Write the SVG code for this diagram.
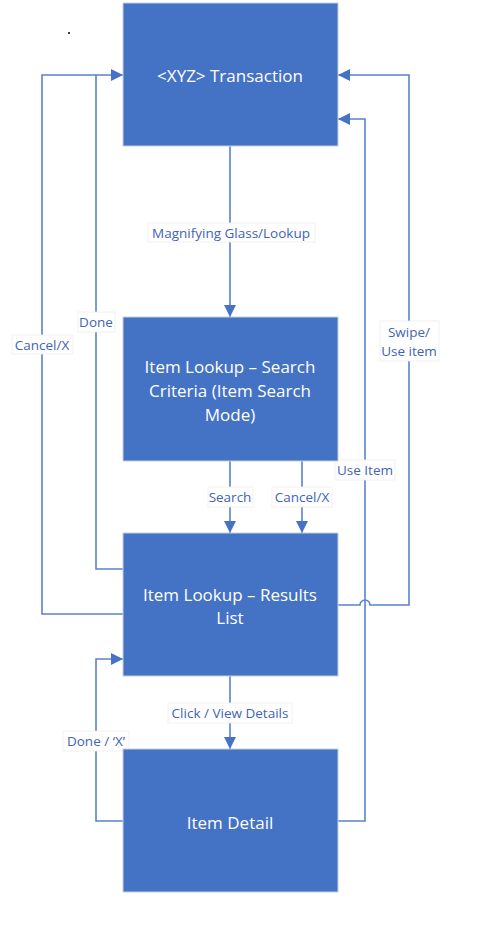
<svg xmlns="http://www.w3.org/2000/svg" width="478" height="950" viewBox="0 0 478 950">
<style>
.node{fill:#4472C4;stroke:#C9CFD9;stroke-width:1}
.nt{font-family:"Open Sans","Liberation Sans",sans-serif;font-size:17px;fill:#FFFFFF;text-anchor:middle;dominant-baseline:central}
.ln{fill:none;stroke:#5B82CC;stroke-width:1.6}
.lb{fill:#FFFFFF;stroke:#EEEEEE;stroke-width:0.8}
.lt{font-family:"Open Sans","Liberation Sans",sans-serif;font-size:13.5px;fill:#3F63B8;text-anchor:middle;dominant-baseline:central}
</style>
<defs>
<marker id="ah" viewBox="0 0 12 12" refX="12" refY="6" markerWidth="12" markerHeight="12" markerUnits="userSpaceOnUse" orient="auto">
<path d="M0,0 L12,6 L0,12 z" fill="#4472C4"/>
</marker>
</defs>
<rect width="478" height="950" fill="#FFFFFF"/>
<circle cx="69" cy="33" r="1" fill="#000000"/>
<g id="connectors">
<path class="ln" d="M230,146 V317" marker-end="url(#ah)"/>
<path class="ln" d="M230,461 V533" marker-end="url(#ah)"/>
<path class="ln" d="M302,461 V533" marker-end="url(#ah)"/>
<path class="ln" d="M230,676 V749" marker-end="url(#ah)"/>
<path class="ln" d="M123,614 H42 V75 H123" marker-end="url(#ah)"/>
<path class="ln" d="M123,569 H96 V75" />
<path class="ln" d="M123,821 H96 V659 H123" marker-end="url(#ah)"/>
<path class="ln" d="M338,605 H360 A5,5 0 0 1 370,605 H409 V75 H338" marker-end="url(#ah)"/>
<path class="ln" d="M338,821 H365 V119 H338" marker-end="url(#ah)"/>
<g id="labels">
<rect class="lb" x="148" y="223" width="167" height="19"/>
<text class="lt" x="231" y="232.5">Magnifying Glass/Lookup</text>
<rect class="lb" x="12" y="335" width="61" height="19"/>
<text class="lt" x="42" y="344.5">Cancel/X</text>
<rect class="lb" x="78" y="312" width="37" height="20"/>
<text class="lt" x="96" y="322">Done</text>
<rect class="lb" x="380" y="321" width="59" height="40"/>
<text class="lt" x="409" y="332">Swipe/</text>
<text class="lt" x="409" y="351">Use item</text>
<rect class="lb" x="335" y="460" width="60" height="20"/>
<text class="lt" x="365" y="470">Use Item</text>
<rect class="lb" x="208" y="487" width="45" height="20"/>
<text class="lt" x="230" y="497">Search</text>
<rect class="lb" x="272" y="487" width="60" height="20"/>
<text class="lt" x="302" y="497">Cancel/X</text>
<rect class="lb" x="168" y="703" width="124" height="20"/>
<text class="lt" x="230" y="713">Click / View Details</text>
<rect class="lb" x="63" y="731" width="66" height="20"/>
<text class="lt" x="96" y="741">Done / ‘X’</text>
</g>
</g>
<g id="n1">
<rect class="node" x="123" y="3" width="215" height="143"/>
<text class="nt" x="230" y="75">&lt;XYZ&gt; Transaction</text>
</g>
<g id="n2">
<rect class="node" x="123" y="317" width="215" height="144"/>
<text class="nt" x="230" y="366">Item Lookup – Search</text>
<text class="nt" x="230" y="390">Criteria (Item Search</text>
<text class="nt" x="230" y="414">Mode)</text>
</g>
<g id="n3">
<rect class="node" x="123" y="533" width="215" height="143"/>
<text class="nt" x="230" y="594">Item Lookup – Results</text>
<text class="nt" x="230" y="617">List</text>
</g>
<g id="n4">
<rect class="node" x="123" y="749" width="215" height="143"/>
<text class="nt" x="230" y="822">Item Detail</text>
</g>
</svg>
